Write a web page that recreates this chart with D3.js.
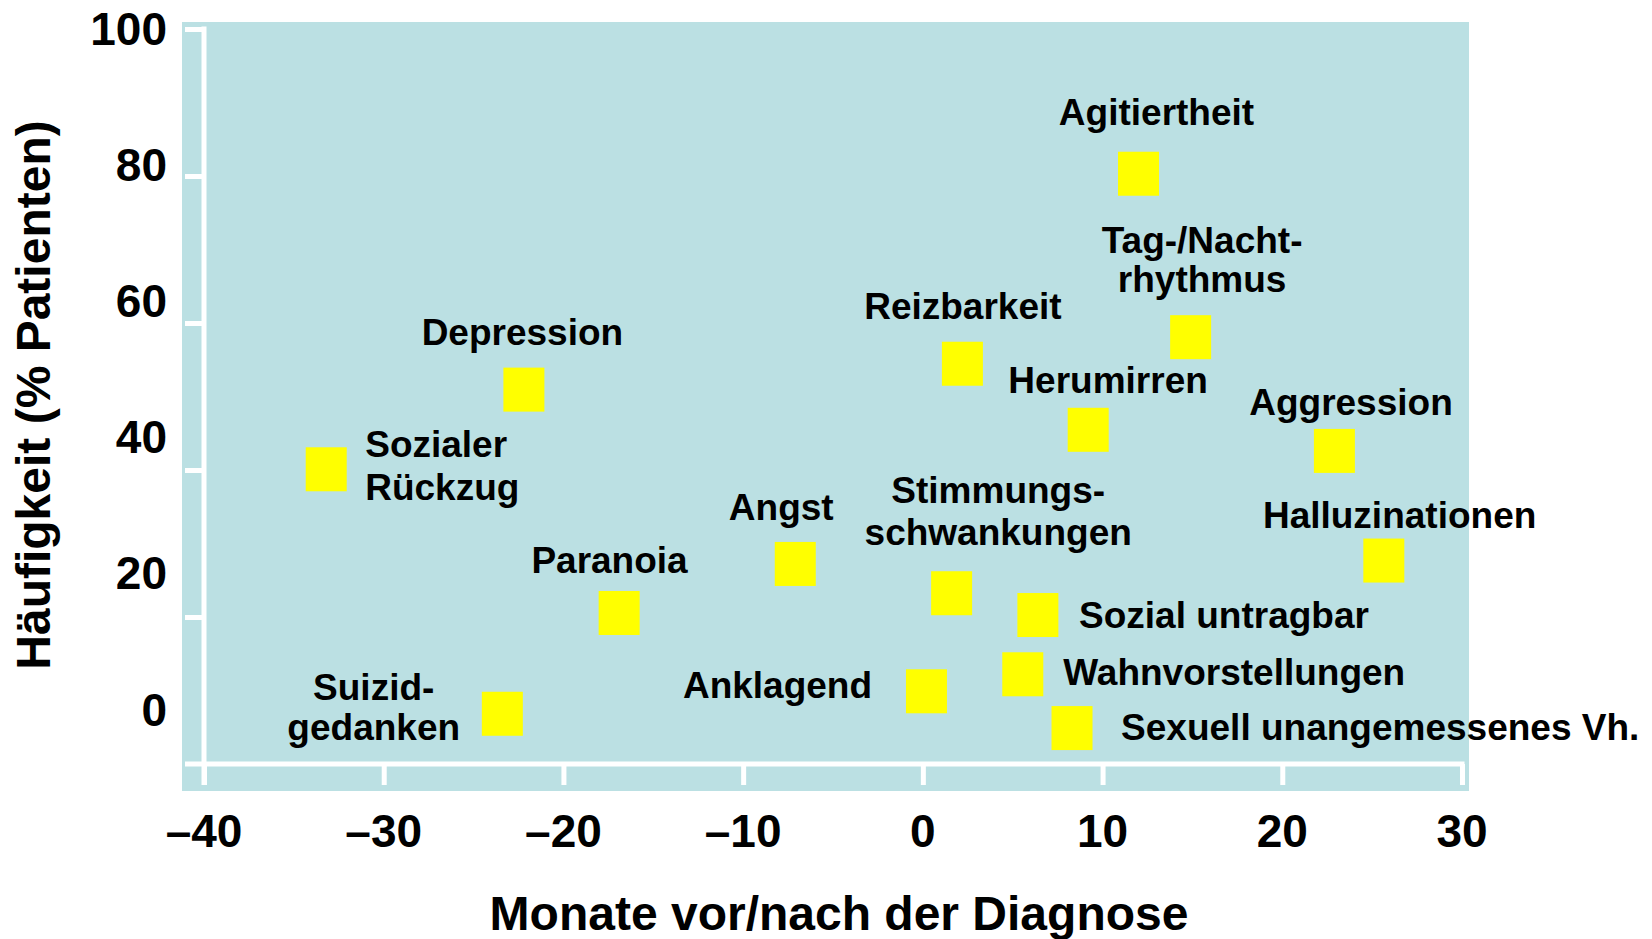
<!DOCTYPE html>
<html>
<head>
<meta charset="utf-8">
<script src="https://cdn.jsdelivr.net/npm/d3@7"></script>
<style>
  body { margin: 0; background: #fff; }
  svg { display: block; }
  text { font-family: "Liberation Sans", Arial, Helvetica, sans-serif; font-weight: bold; fill: #000; }
</style>
</head>
<body>
<svg id="chart" width="1652" height="939"></svg>
<script>
// symptoms and where they sit (months vs. diagnosis, % patients)
const symptoms = ["Sozialer Rückzug", "Depression", "Suizidgedanken", "Paranoia", "Angst",
  "Anklagend", "Stimmungsschwankungen", "Reizbarkeit", "Sozial untragbar", "Wahnvorstellungen",
  "Sexuell unangemessenes Vh.", "Herumirren", "Agitiertheit", "Tag-/Nachtrhythmus",
  "Aggression", "Halluzinationen"];
const months = [-33.2, -22.2, -23.4, -16.9, -7.1, 0.2, 1.6, 2.2, 6.4, 5.56, 8.3, 9.2, 12.0, 14.9, 22.9, 25.65];
const percent = [35.2, 46.9, -0.7, 14.1, 21.3, 2.6, 17.0, 50.7, 13.8, 5.1, -2.8, 41.0, 78.6, 54.6, 37.9, 21.8];
const labelLines = [["Sozialer", "Rückzug"], ["Depression"], ["Suizid-", "gedanken"], ["Paranoia"], ["Angst"],
  ["Anklagend"], ["Stimmungs-", "schwankungen"], ["Reizbarkeit"], ["Sozial untragbar"], ["Wahnvorstellungen"],
  ["Sexuell unangemessenes Vh."], ["Herumirren"], ["Agitiertheit"], ["Tag-/Nacht-", "rhythmus"],
  ["Aggression"], ["Halluzinationen"]];

const xTicks = [-40, -30, -20, -10, 0, 10, 20, 30];
const yTicks = [0, 20, 40, 60, 80, 100];
const xTitle = "Monate vor/nach der Diagnose";
const yTitle = "Häufigkeit (% Patienten)";

// label placement relative to each square: [dx, dy of first baseline, anchor, line gap]
const labelLayout = [
  [39, -12, "start", 43], [-1.5, -44.5, "middle", 0], [-128.6, -13.5, "middle", 40],
  [-9.6, -40, "middle", 0], [-14, -44, "middle", 0], [-54.4, 7, "end", 0],
  [46.6, -90, "middle", 42], [0.5, -44.7, "middle", 0], [41.2, 12.7, "start", 0],
  [40.5, 11.2, "start", 0], [49.1, 12.3, "start", 0], [19.9, -36.8, "middle", 0],
  [18, -48.3, "middle", 0], [11.5, -84.3, "middle", 39], [16.6, -36, "middle", 0],
  [15.8, -33, "middle", 0]
];

const data = symptoms.map((s, i) => ({ name: s, m: months[i], p: percent[i], lines: labelLines[i], lay: labelLayout[i] }));

const svg = d3.select("#chart");
const bg = "#bbe0e3";

const x = d3.scaleLinear().domain([-40, 30]).range([204, 1462]);
const yTick = d3.scaleLinear().domain([0, 100]).range([764, 29]);   // where the white ticks sit
const yLab = d3.scaleLinear().domain([0, 100]).range([709, 28]);    // where the numbers (and points) sit

svg.append("rect")
    .attr("x", 182).attr("y", 22)
    .attr("width", 1469 - 182).attr("height", 791 - 22)
    .attr("fill", bg);

// axes (ticks only, lines drawn by hand)
const gx = svg.append("g")
    .attr("transform", `translate(0,${yTick(0)})`)
    .call(d3.axisBottom(x).tickValues(xTicks).tickSize(21).tickSizeOuter(0).tickFormat(""));
const gy = svg.append("g")
    .attr("transform", `translate(${x(-40)},0)`)
    .call(d3.axisLeft(yTick).tickValues(yTicks.slice(1)).tickSize(19).tickSizeOuter(0).tickFormat(""));
[gx, gy].forEach(g => {
  g.select(".domain").remove();
  g.selectAll(".tick line").attr("stroke", "#fff").attr("stroke-width", 5);
});

svg.append("line")
    .attr("x1", 185).attr("x2", x(30) + 2.5)
    .attr("y1", yTick(0)).attr("y2", yTick(0))
    .attr("stroke", "#fff").attr("stroke-width", 5);
svg.append("line")
    .attr("x1", x(-40)).attr("x2", x(-40))
    .attr("y1", yTick(100) - 2.5).attr("y2", yTick(0) + 21)
    .attr("stroke", "#fff").attr("stroke-width", 5);

// tick labels
svg.append("g").selectAll("text")
  .data(xTicks)
  .join("text")
    .attr("x", d => x(d))
    .attr("y", 847)
    .attr("text-anchor", "middle")
    .attr("font-size", 46)
    .text(d => d < 0 ? "\u2013" + Math.abs(d) : d);

svg.append("g").selectAll("text")
  .data(yTicks)
  .join("text")
    .attr("x", 167)
    .attr("y", d => yLab(d) + 16.5)
    .attr("text-anchor", "end")
    .attr("font-size", 46)
    .text(d => d);

// axis titles
svg.append("text")
    .attr("x", 839).attr("y", 930)
    .attr("text-anchor", "middle")
    .attr("font-size", 48)
    .text(xTitle);

svg.append("text")
    .attr("transform", "translate(50,395) rotate(-90)")
    .attr("text-anchor", "middle")
    .attr("font-size", 48)
    .text(yTitle);

// squares
const sqW = 41, sqH = 44;
svg.append("g").selectAll("rect")
  .data(data)
  .join("rect")
    .attr("x", d => x(d.m) - sqW / 2)
    .attr("y", d => yLab(d.p) - sqH / 2)
    .attr("width", sqW).attr("height", sqH)
    .attr("fill", "#ffff00");

// labels
const lab = svg.append("g").selectAll("text")
  .data(data)
  .join("text")
    .attr("font-size", 37)
    .attr("text-anchor", d => d.lay[2])
    .attr("x", d => x(d.m) + d.lay[0])
    .attr("y", d => yLab(d.p) + d.lay[1]);

lab.selectAll("tspan")
  .data(d => d.lines.map((t, i) => ({ t, i, d })))
  .join("tspan")
    .attr("x", o => x(o.d.m) + o.d.lay[0])
    .attr("dy", o => o.i === 0 ? 0 : o.d.lay[3])
    .text(o => o.t);
</script>
</body>
</html>
